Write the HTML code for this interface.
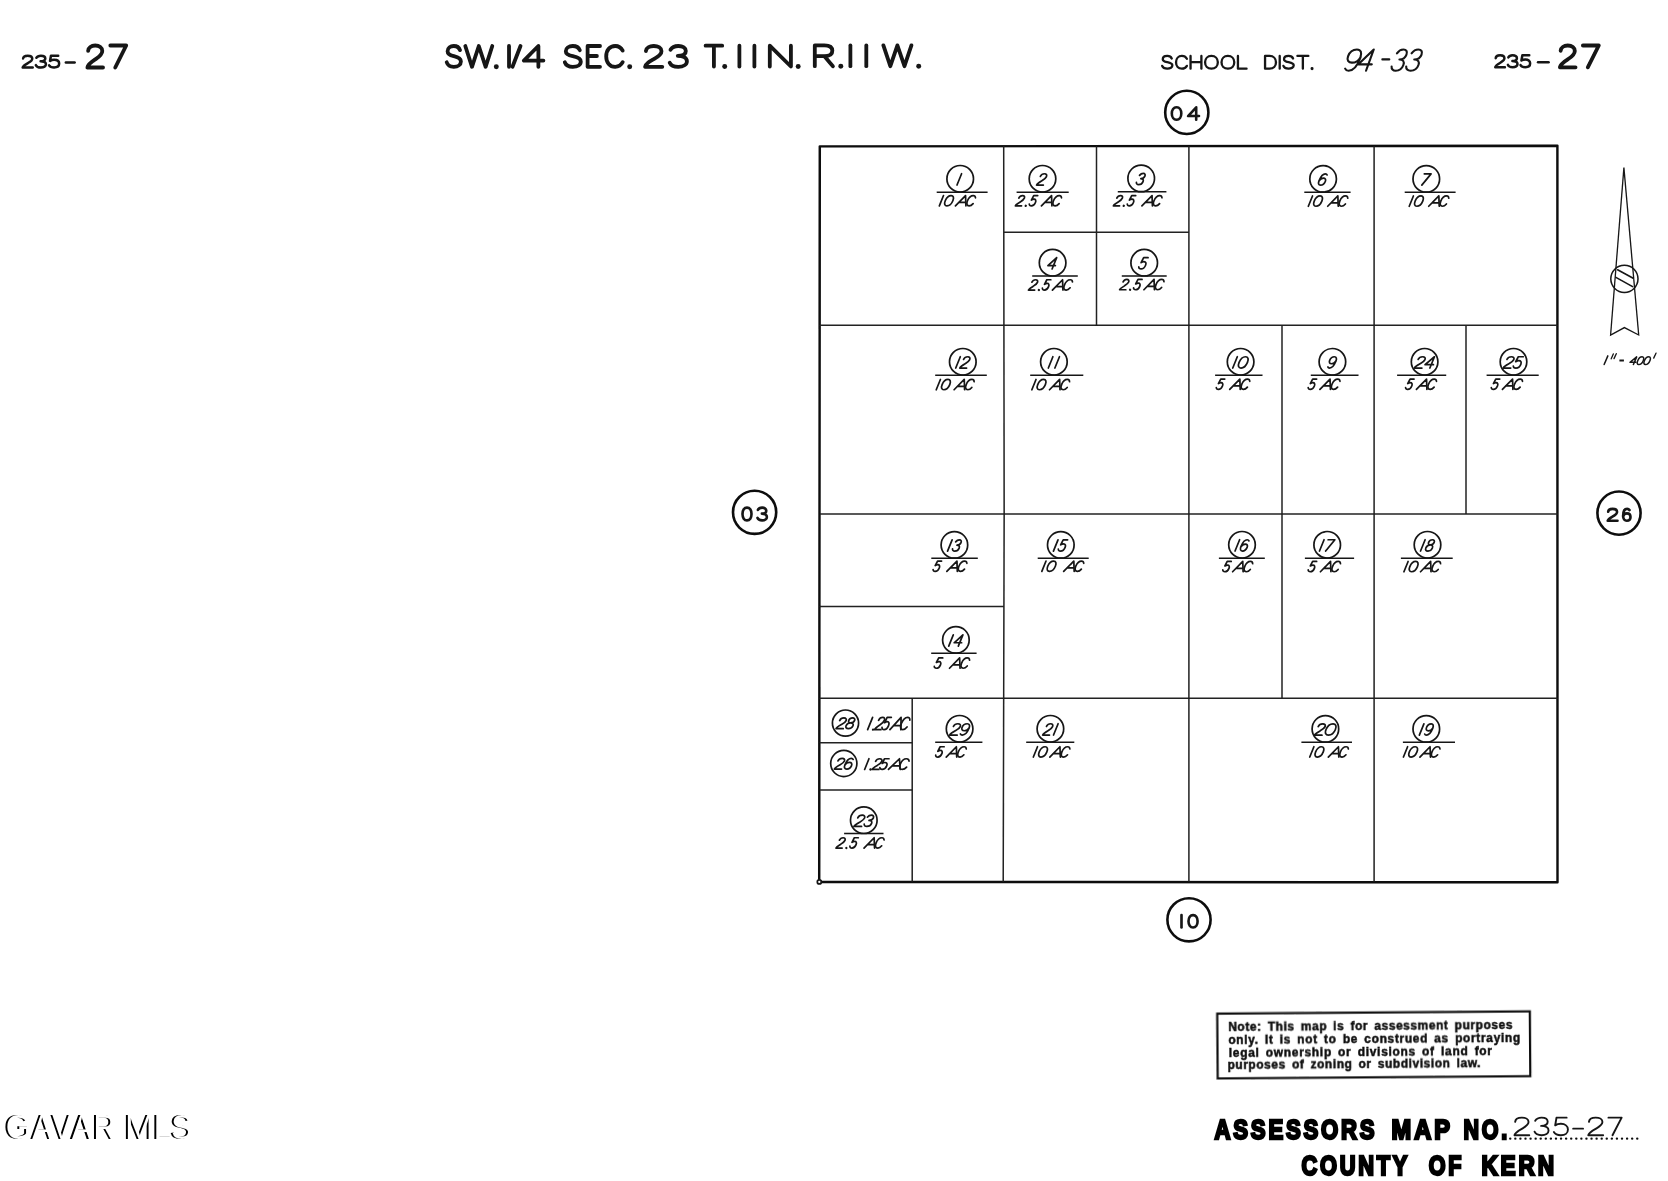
<!DOCTYPE html>
<html><head><meta charset="utf-8"><title>Assessors Map 235-27</title>
<style>
html,body{margin:0;padding:0;background:#fff;}
body{width:1668px;height:1181px;position:relative;overflow:hidden;font-family:"Liberation Sans",sans-serif;}
svg{position:absolute;left:0;top:0;will-change:transform;}
svg text{font-family:"Liberation Sans",sans-serif;font-weight:bold;}
svg .wmk text{font-weight:normal;}
</style></head><body>
<svg width="1668" height="1181" viewBox="0 0 1668 1181"><defs><filter id="soft" filterUnits="userSpaceOnUse" x="0" y="0" width="1668" height="1181"><feGaussianBlur stdDeviation="0.42"/></filter></defs><g filter="url(#soft)"><g stroke="#202020" fill="none" stroke-linecap="butt"><path d="M819.8,146.35 L1557.4,145.75 L1557.5,882.3 L819.2,881.95 Z" stroke="#0c0c0c" stroke-width="2.45" stroke-linejoin="round"/><line x1="819.6" y1="325.2" x2="1557.5" y2="325.2" stroke-width="1.5"/><line x1="819.6" y1="514" x2="1557.5" y2="514" stroke-width="1.5"/><line x1="819.6" y1="698.2" x2="1557.5" y2="698.2" stroke-width="1.5"/><polyline points="1003.7,146.3 1004.15,514 1003.2,882" stroke-width="1.5"/><line x1="1188.9" y1="146.2" x2="1188.9" y2="881.7" stroke-width="1.5"/><line x1="1374.1" y1="146.2" x2="1374.1" y2="881.7" stroke-width="1.5"/><line x1="1096.5" y1="146.2" x2="1096.5" y2="325.2" stroke-width="1.5"/><line x1="1004.0" y1="232.3" x2="1188.9" y2="232.3" stroke-width="1.5"/><line x1="1282.0" y1="325.2" x2="1282.0" y2="698.2" stroke-width="1.5"/><line x1="1466" y1="325.2" x2="1466" y2="514" stroke-width="1.5"/><line x1="819.6" y1="606.4" x2="1004.0" y2="606.4" stroke-width="1.5"/><line x1="912.2" y1="698.2" x2="912.2" y2="881.7" stroke-width="1.5"/><line x1="819.6" y1="742.8" x2="912.2" y2="742.8" stroke-width="1.5"/><line x1="819.6" y1="790" x2="912.2" y2="790" stroke-width="1.5"/></g><g stroke="#141414" fill="none" stroke-linecap="round" stroke-linejoin="round"><circle cx="819.3" cy="881.9" r="2.0" stroke-width="1.7" fill="#fff"/><circle cx="960.2" cy="178.80" r="13.3" stroke-width="1.7"/><line x1="936.7" y1="192.2" x2="987.6" y2="192.2" stroke-width="1.5" stroke-linecap="butt"/><g transform="matrix(1.1300,0,-0.4565,1.1300,954.53,185.05)" stroke-width="1.7"><path vector-effect="non-scaling-stroke" transform="translate(0.00,0)" d="M2.2,-10 L2.2,0"/></g><g transform="matrix(1.0300,0,-0.4161,1.0300,937.08,205.85)" stroke-width="1.7"><path vector-effect="non-scaling-stroke" transform="translate(0.00,0)" d="M2.2,-10 L2.2,0"/><path vector-effect="non-scaling-stroke" transform="translate(5.90,0)" d="M3.70,-10 C1.46,-10 0.00,-8 0.00,-5 C0.00,-2 1.46,0 3.70,0 C5.94,0 7.40,-2 7.40,-5 C7.40,-8 5.94,-10 3.70,-10 Z"/><path vector-effect="non-scaling-stroke" transform="translate(17.80,0)" d="M0,0 L5.8,-10 L10.2,0 M1.9,-3.3 L8.75,-3.3"/><path vector-effect="non-scaling-stroke" transform="translate(27.50,0)" d="M6.60,-7.8 C6.02,-9.1 4.85,-10 3.59,-10 C1.46,-10 0.00,-8 0.00,-5 C0.00,-2 1.46,0 3.59,0 C4.85,0 6.02,-0.9 6.60,-2.2"/></g><circle cx="1042.5" cy="178.80" r="13.3" stroke-width="1.7"/><line x1="1016.6" y1="192.2" x2="1068.7" y2="192.2" stroke-width="1.5" stroke-linecap="butt"/><g transform="matrix(1.1300,0,-0.4565,1.1300,1036.57,185.05)" stroke-width="1.7"><path vector-effect="non-scaling-stroke" transform="translate(0.00,0)" d="M0.28,-7.6 C0.38,-9 1.50,-10 3.00,-10 C4.59,-10 5.72,-9 5.72,-7.5 C5.72,-6 4.69,-5 3.19,-3.8 C1.50,-2.5 0.19,-1.5 0.00,0 L6.00,0"/></g><g transform="matrix(1.0300,0,-0.4161,1.0300,1015.35,205.85)" stroke-width="1.7"><path vector-effect="non-scaling-stroke" transform="translate(0.00,0)" d="M0.28,-7.6 C0.38,-9 1.50,-10 3.00,-10 C4.59,-10 5.72,-9 5.72,-7.5 C5.72,-6 4.69,-5 3.19,-3.8 C1.50,-2.5 0.19,-1.5 0.00,0 L6.00,0"/><path vector-effect="non-scaling-stroke" transform="translate(10.10,0)" d="M0,-0.05 L0,0" stroke-width="2.29"/><path vector-effect="non-scaling-stroke" transform="translate(12.80,0)" d="M4.89,-10 L1.01,-10 L0.51,-5.6 C1.10,-6.2 1.86,-6.5 2.70,-6.5 C4.30,-6.5 5.40,-5.2 5.40,-3.3 C5.40,-1.3 4.30,0 2.70,0 C1.43,0 0.42,-0.7 0.00,-1.8"/><path vector-effect="non-scaling-stroke" transform="translate(25.31,0)" d="M0,0 L5.8,-10 L10.2,0 M1.9,-3.3 L8.75,-3.3"/><path vector-effect="non-scaling-stroke" transform="translate(35.01,0)" d="M6.60,-7.8 C6.02,-9.1 4.85,-10 3.59,-10 C1.46,-10 0.00,-8 0.00,-5 C0.00,-2 1.46,0 3.59,0 C4.85,0 6.02,-0.9 6.60,-2.2"/></g><circle cx="1141.2" cy="178.40" r="13.3" stroke-width="1.7"/><line x1="1117.8" y1="191.8" x2="1166.4" y2="191.8" stroke-width="1.5" stroke-linecap="butt"/><g transform="matrix(1.1300,0,-0.4565,1.1300,1135.49,184.65)" stroke-width="1.7"><path vector-effect="non-scaling-stroke" transform="translate(0.00,0)" d="M0.26,-8.2 C0.70,-9.3 1.66,-10 2.80,-10 C4.29,-10 5.25,-9 5.25,-7.6 C5.25,-6.2 4.29,-5.3 2.62,-5.3 C4.55,-5.3 5.60,-4.2 5.60,-2.7 C5.60,-1.1 4.46,0 2.80,0 C1.40,0 0.35,-0.8 0.00,-2"/></g><g transform="matrix(1.0300,0,-0.4161,1.0300,1113.35,205.85)" stroke-width="1.7"><path vector-effect="non-scaling-stroke" transform="translate(0.00,0)" d="M0.28,-7.6 C0.38,-9 1.50,-10 3.00,-10 C4.59,-10 5.72,-9 5.72,-7.5 C5.72,-6 4.69,-5 3.19,-3.8 C1.50,-2.5 0.19,-1.5 0.00,0 L6.00,0"/><path vector-effect="non-scaling-stroke" transform="translate(10.10,0)" d="M0,-0.05 L0,0" stroke-width="2.29"/><path vector-effect="non-scaling-stroke" transform="translate(12.80,0)" d="M4.89,-10 L1.01,-10 L0.51,-5.6 C1.10,-6.2 1.86,-6.5 2.70,-6.5 C4.30,-6.5 5.40,-5.2 5.40,-3.3 C5.40,-1.3 4.30,0 2.70,0 C1.43,0 0.42,-0.7 0.00,-1.8"/><path vector-effect="non-scaling-stroke" transform="translate(27.73,0)" d="M0,0 L5.8,-10 L10.2,0 M1.9,-3.3 L8.75,-3.3"/><path vector-effect="non-scaling-stroke" transform="translate(37.43,0)" d="M6.60,-7.8 C6.02,-9.1 4.85,-10 3.59,-10 C1.46,-10 0.00,-8 0.00,-5 C0.00,-2 1.46,0 3.59,0 C4.85,0 6.02,-0.9 6.60,-2.2"/></g><circle cx="1052.6" cy="262.70" r="13.3" stroke-width="1.7"/><line x1="1032.2" y1="276.1" x2="1077.8" y2="276.1" stroke-width="1.5" stroke-linecap="butt"/><g transform="matrix(1.1300,0,-0.4565,1.1300,1046.56,268.95)" stroke-width="1.7"><path vector-effect="non-scaling-stroke" transform="translate(0.00,0)" d="M4.90,0 L4.90,-10 L0.00,-3 L6.60,-3"/></g><g transform="matrix(1.0300,0,-0.4161,1.0300,1028.45,290.05)" stroke-width="1.7"><path vector-effect="non-scaling-stroke" transform="translate(0.00,0)" d="M0.28,-7.6 C0.38,-9 1.50,-10 3.00,-10 C4.59,-10 5.72,-9 5.72,-7.5 C5.72,-6 4.69,-5 3.19,-3.8 C1.50,-2.5 0.19,-1.5 0.00,0 L6.00,0"/><path vector-effect="non-scaling-stroke" transform="translate(10.10,0)" d="M0,-0.05 L0,0" stroke-width="2.29"/><path vector-effect="non-scaling-stroke" transform="translate(12.80,0)" d="M4.89,-10 L1.01,-10 L0.51,-5.6 C1.10,-6.2 1.86,-6.5 2.70,-6.5 C4.30,-6.5 5.40,-5.2 5.40,-3.3 C5.40,-1.3 4.30,0 2.70,0 C1.43,0 0.42,-0.7 0.00,-1.8"/><path vector-effect="non-scaling-stroke" transform="translate(23.27,0)" d="M0,0 L5.8,-10 L10.2,0 M1.9,-3.3 L8.75,-3.3"/><path vector-effect="non-scaling-stroke" transform="translate(32.97,0)" d="M6.60,-7.8 C6.02,-9.1 4.85,-10 3.59,-10 C1.46,-10 0.00,-8 0.00,-5 C0.00,-2 1.46,0 3.59,0 C4.85,0 6.02,-0.9 6.60,-2.2"/></g><circle cx="1144.2" cy="262.70" r="13.3" stroke-width="1.7"/><line x1="1121.8" y1="276.1" x2="1166.7" y2="276.1" stroke-width="1.5" stroke-linecap="butt"/><g transform="matrix(1.1300,0,-0.4565,1.1300,1137.97,268.95)" stroke-width="1.7"><path vector-effect="non-scaling-stroke" transform="translate(0.00,0)" d="M4.89,-10 L1.01,-10 L0.51,-5.6 C1.10,-6.2 1.86,-6.5 2.70,-6.5 C4.30,-6.5 5.40,-5.2 5.40,-3.3 C5.40,-1.3 4.30,0 2.70,0 C1.43,0 0.42,-0.7 0.00,-1.8"/></g><g transform="matrix(1.0300,0,-0.4161,1.0300,1119.65,289.75)" stroke-width="1.7"><path vector-effect="non-scaling-stroke" transform="translate(0.00,0)" d="M0.28,-7.6 C0.38,-9 1.50,-10 3.00,-10 C4.59,-10 5.72,-9 5.72,-7.5 C5.72,-6 4.69,-5 3.19,-3.8 C1.50,-2.5 0.19,-1.5 0.00,0 L6.00,0"/><path vector-effect="non-scaling-stroke" transform="translate(10.10,0)" d="M0,-0.05 L0,0" stroke-width="2.29"/><path vector-effect="non-scaling-stroke" transform="translate(12.80,0)" d="M4.89,-10 L1.01,-10 L0.51,-5.6 C1.10,-6.2 1.86,-6.5 2.70,-6.5 C4.30,-6.5 5.40,-5.2 5.40,-3.3 C5.40,-1.3 4.30,0 2.70,0 C1.43,0 0.42,-0.7 0.00,-1.8"/><path vector-effect="non-scaling-stroke" transform="translate(23.56,0)" d="M0,0 L5.8,-10 L10.2,0 M1.9,-3.3 L8.75,-3.3"/><path vector-effect="non-scaling-stroke" transform="translate(33.26,0)" d="M6.60,-7.8 C6.02,-9.1 4.85,-10 3.59,-10 C1.46,-10 0.00,-8 0.00,-5 C0.00,-2 1.46,0 3.59,0 C4.85,0 6.02,-0.9 6.60,-2.2"/></g><circle cx="1323.1" cy="178.90" r="13.3" stroke-width="1.7"/><line x1="1304.3" y1="192.3" x2="1350.6" y2="192.3" stroke-width="1.5" stroke-linecap="butt"/><g transform="matrix(1.1300,0,-0.4565,1.1300,1317.28,185.15)" stroke-width="1.7"><path vector-effect="non-scaling-stroke" transform="translate(0.00,0)" d="M5.07,-9 C4.53,-9.7 3.90,-10 3.17,-10 C1.36,-10 0.00,-8 0.00,-4 C0.00,-1.5 1.18,0 2.90,0 C4.62,0 5.80,-1.3 5.80,-3.2 C5.80,-5 4.62,-6.2 2.99,-6.2 C1.45,-6.2 0.27,-5 0.00,-3.5"/></g><g transform="matrix(1.0300,0,-0.4161,1.0300,1306.08,206.25)" stroke-width="1.7"><path vector-effect="non-scaling-stroke" transform="translate(0.00,0)" d="M2.2,-10 L2.2,0"/><path vector-effect="non-scaling-stroke" transform="translate(5.90,0)" d="M3.70,-10 C1.46,-10 0.00,-8 0.00,-5 C0.00,-2 1.46,0 3.70,0 C5.94,0 7.40,-2 7.40,-5 C7.40,-8 5.94,-10 3.70,-10 Z"/><path vector-effect="non-scaling-stroke" transform="translate(21.00,0)" d="M0,0 L5.8,-10 L10.2,0 M1.9,-3.3 L8.75,-3.3"/><path vector-effect="non-scaling-stroke" transform="translate(30.70,0)" d="M6.60,-7.8 C6.02,-9.1 4.85,-10 3.59,-10 C1.46,-10 0.00,-8 0.00,-5 C0.00,-2 1.46,0 3.59,0 C4.85,0 6.02,-0.9 6.60,-2.2"/></g><circle cx="1426.3" cy="178.90" r="13.3" stroke-width="1.7"/><line x1="1404.7" y1="192.3" x2="1455.6" y2="192.3" stroke-width="1.5" stroke-linecap="butt"/><g transform="matrix(1.1300,0,-0.4565,1.1300,1419.73,185.15)" stroke-width="1.7"><path vector-effect="non-scaling-stroke" transform="translate(0.00,0)" d="M0.00,-10 L6.00,-10 L1.85,0"/></g><g transform="matrix(1.0300,0,-0.4161,1.0300,1406.98,206.25)" stroke-width="1.7"><path vector-effect="non-scaling-stroke" transform="translate(0.00,0)" d="M2.2,-10 L2.2,0"/><path vector-effect="non-scaling-stroke" transform="translate(5.90,0)" d="M3.70,-10 C1.46,-10 0.00,-8 0.00,-5 C0.00,-2 1.46,0 3.70,0 C5.94,0 7.40,-2 7.40,-5 C7.40,-8 5.94,-10 3.70,-10 Z"/><path vector-effect="non-scaling-stroke" transform="translate(21.10,0)" d="M0,0 L5.8,-10 L10.2,0 M1.9,-3.3 L8.75,-3.3"/><path vector-effect="non-scaling-stroke" transform="translate(30.80,0)" d="M6.60,-7.8 C6.02,-9.1 4.85,-10 3.59,-10 C1.46,-10 0.00,-8 0.00,-5 C0.00,-2 1.46,0 3.59,0 C4.85,0 6.02,-0.9 6.60,-2.2"/></g><circle cx="962.8" cy="361.80" r="13.3" stroke-width="1.7"/><line x1="935.2" y1="375.2" x2="986.8" y2="375.2" stroke-width="1.5" stroke-linecap="butt"/><g transform="matrix(1.1300,0,-0.4565,1.1300,953.25,368.05)" stroke-width="1.7"><path vector-effect="non-scaling-stroke" transform="translate(0.00,0)" d="M2.2,-10 L2.2,0"/><path vector-effect="non-scaling-stroke" transform="translate(5.80,0)" d="M0.28,-7.6 C0.38,-9 1.50,-10 3.00,-10 C4.59,-10 5.72,-9 5.72,-7.5 C5.72,-6 4.69,-5 3.19,-3.8 C1.50,-2.5 0.19,-1.5 0.00,0 L6.00,0"/></g><g transform="matrix(1.0300,0,-0.4161,1.0300,933.98,389.75)" stroke-width="1.7"><path vector-effect="non-scaling-stroke" transform="translate(0.00,0)" d="M2.2,-10 L2.2,0"/><path vector-effect="non-scaling-stroke" transform="translate(5.90,0)" d="M3.70,-10 C1.46,-10 0.00,-8 0.00,-5 C0.00,-2 1.46,0 3.70,0 C5.94,0 7.40,-2 7.40,-5 C7.40,-8 5.94,-10 3.70,-10 Z"/><path vector-effect="non-scaling-stroke" transform="translate(19.54,0)" d="M0,0 L5.8,-10 L10.2,0 M1.9,-3.3 L8.75,-3.3"/><path vector-effect="non-scaling-stroke" transform="translate(29.24,0)" d="M6.60,-7.8 C6.02,-9.1 4.85,-10 3.59,-10 C1.46,-10 0.00,-8 0.00,-5 C0.00,-2 1.46,0 3.59,0 C4.85,0 6.02,-0.9 6.60,-2.2"/></g><circle cx="1053.9" cy="361.80" r="13.3" stroke-width="1.7"/><line x1="1030.2" y1="375.2" x2="1083.3" y2="375.2" stroke-width="1.5" stroke-linecap="butt"/><g transform="matrix(1.1300,0,-0.4565,1.1300,1045.85,368.05)" stroke-width="1.7"><path vector-effect="non-scaling-stroke" transform="translate(0.00,0)" d="M2.2,-10 L2.2,0"/><path vector-effect="non-scaling-stroke" transform="translate(5.80,0)" d="M2.2,-10 L2.2,0"/></g><g transform="matrix(1.0300,0,-0.4161,1.0300,1029.58,389.75)" stroke-width="1.7"><path vector-effect="non-scaling-stroke" transform="translate(0.00,0)" d="M2.2,-10 L2.2,0"/><path vector-effect="non-scaling-stroke" transform="translate(5.90,0)" d="M3.70,-10 C1.46,-10 0.00,-8 0.00,-5 C0.00,-2 1.46,0 3.70,0 C5.94,0 7.40,-2 7.40,-5 C7.40,-8 5.94,-10 3.70,-10 Z"/><path vector-effect="non-scaling-stroke" transform="translate(19.35,0)" d="M0,0 L5.8,-10 L10.2,0 M1.9,-3.3 L8.75,-3.3"/><path vector-effect="non-scaling-stroke" transform="translate(29.05,0)" d="M6.60,-7.8 C6.02,-9.1 4.85,-10 3.59,-10 C1.46,-10 0.00,-8 0.00,-5 C0.00,-2 1.46,0 3.59,0 C4.85,0 6.02,-0.9 6.60,-2.2"/></g><circle cx="1240.6" cy="361.80" r="13.3" stroke-width="1.7"/><line x1="1215.1" y1="375.2" x2="1262.5" y2="375.2" stroke-width="1.5" stroke-linecap="butt"/><g transform="matrix(1.1300,0,-0.4565,1.1300,1230.26,368.05)" stroke-width="1.7"><path vector-effect="non-scaling-stroke" transform="translate(0.00,0)" d="M2.2,-10 L2.2,0"/><path vector-effect="non-scaling-stroke" transform="translate(5.80,0)" d="M3.70,-10 C1.46,-10 0.00,-8 0.00,-5 C0.00,-2 1.46,0 3.70,0 C5.94,0 7.40,-2 7.40,-5 C7.40,-8 5.94,-10 3.70,-10 Z"/></g><g transform="matrix(1.0300,0,-0.4161,1.0300,1215.55,389.35)" stroke-width="1.7"><path vector-effect="non-scaling-stroke" transform="translate(0.00,0)" d="M4.89,-10 L1.01,-10 L0.51,-5.6 C1.10,-6.2 1.86,-6.5 2.70,-6.5 C4.30,-6.5 5.40,-5.2 5.40,-3.3 C5.40,-1.3 4.30,0 2.70,0 C1.43,0 0.42,-0.7 0.00,-1.8"/><path vector-effect="non-scaling-stroke" transform="translate(13.75,0)" d="M0,0 L5.8,-10 L10.2,0 M1.9,-3.3 L8.75,-3.3"/><path vector-effect="non-scaling-stroke" transform="translate(23.45,0)" d="M6.60,-7.8 C6.02,-9.1 4.85,-10 3.59,-10 C1.46,-10 0.00,-8 0.00,-5 C0.00,-2 1.46,0 3.59,0 C4.85,0 6.02,-0.9 6.60,-2.2"/></g><circle cx="1332.4" cy="361.80" r="13.3" stroke-width="1.7"/><line x1="1310.8" y1="375.2" x2="1358.5" y2="375.2" stroke-width="1.5" stroke-linecap="butt"/><g transform="matrix(1.1300,0,-0.4565,1.1300,1326.58,368.05)" stroke-width="1.7"><path vector-effect="non-scaling-stroke" transform="translate(0.00,0)" d="M0.72,-1 C1.27,-0.3 1.90,0 2.63,0 C4.44,0 5.80,-2 5.80,-6 C5.80,-8.5 4.62,-10 2.90,-10 C1.18,-10 0.00,-8.7 0.00,-6.8 C0.00,-5 1.18,-3.8 2.81,-3.8 C4.35,-3.8 5.53,-5 5.80,-6.5"/></g><g transform="matrix(1.0300,0,-0.4161,1.0300,1307.45,389.35)" stroke-width="1.7"><path vector-effect="non-scaling-stroke" transform="translate(0.00,0)" d="M4.89,-10 L1.01,-10 L0.51,-5.6 C1.10,-6.2 1.86,-6.5 2.70,-6.5 C4.30,-6.5 5.40,-5.2 5.40,-3.3 C5.40,-1.3 4.30,0 2.70,0 C1.43,0 0.42,-0.7 0.00,-1.8"/><path vector-effect="non-scaling-stroke" transform="translate(12.10,0)" d="M0,0 L5.8,-10 L10.2,0 M1.9,-3.3 L8.75,-3.3"/><path vector-effect="non-scaling-stroke" transform="translate(21.80,0)" d="M6.60,-7.8 C6.02,-9.1 4.85,-10 3.59,-10 C1.46,-10 0.00,-8 0.00,-5 C0.00,-2 1.46,0 3.59,0 C4.85,0 6.02,-0.9 6.60,-2.2"/></g><circle cx="1424.6" cy="361.80" r="13.3" stroke-width="1.7"/><line x1="1397.1" y1="375.2" x2="1446.2" y2="375.2" stroke-width="1.5" stroke-linecap="butt"/><g transform="matrix(1.2656,0,-0.4565,1.1300,1414.33,368.05)" stroke-width="1.7"><path vector-effect="non-scaling-stroke" transform="translate(0.00,0)" d="M0.28,-7.6 C0.38,-9 1.50,-10 3.00,-10 C4.59,-10 5.72,-9 5.72,-7.5 C5.72,-6 4.69,-5 3.19,-3.8 C1.50,-2.5 0.19,-1.5 0.00,0 L6.00,0"/><path vector-effect="non-scaling-stroke" transform="translate(7.40,0)" d="M4.90,0 L4.90,-10 L0.00,-3 L6.60,-3"/></g><g transform="matrix(1.0300,0,-0.4161,1.0300,1404.85,389.35)" stroke-width="1.7"><path vector-effect="non-scaling-stroke" transform="translate(0.00,0)" d="M4.89,-10 L1.01,-10 L0.51,-5.6 C1.10,-6.2 1.86,-6.5 2.70,-6.5 C4.30,-6.5 5.40,-5.2 5.40,-3.3 C5.40,-1.3 4.30,0 2.70,0 C1.43,0 0.42,-0.7 0.00,-1.8"/><path vector-effect="non-scaling-stroke" transform="translate(11.23,0)" d="M0,0 L5.8,-10 L10.2,0 M1.9,-3.3 L8.75,-3.3"/><path vector-effect="non-scaling-stroke" transform="translate(20.93,0)" d="M6.60,-7.8 C6.02,-9.1 4.85,-10 3.59,-10 C1.46,-10 0.00,-8 0.00,-5 C0.00,-2 1.46,0 3.59,0 C4.85,0 6.02,-0.9 6.60,-2.2"/></g><circle cx="1513.5" cy="361.80" r="13.3" stroke-width="1.7"/><line x1="1486.6" y1="375.2" x2="1538.7" y2="375.2" stroke-width="1.5" stroke-linecap="butt"/><g transform="matrix(1.2656,0,-0.4565,1.1300,1503.12,368.05)" stroke-width="1.7"><path vector-effect="non-scaling-stroke" transform="translate(0.00,0)" d="M0.28,-7.6 C0.38,-9 1.50,-10 3.00,-10 C4.59,-10 5.72,-9 5.72,-7.5 C5.72,-6 4.69,-5 3.19,-3.8 C1.50,-2.5 0.19,-1.5 0.00,0 L6.00,0"/><path vector-effect="non-scaling-stroke" transform="translate(7.40,0)" d="M4.89,-10 L1.01,-10 L0.51,-5.6 C1.10,-6.2 1.86,-6.5 2.70,-6.5 C4.30,-6.5 5.40,-5.2 5.40,-3.3 C5.40,-1.3 4.30,0 2.70,0 C1.43,0 0.42,-0.7 0.00,-1.8"/></g><g transform="matrix(1.0300,0,-0.4161,1.0300,1490.55,389.35)" stroke-width="1.7"><path vector-effect="non-scaling-stroke" transform="translate(0.00,0)" d="M4.89,-10 L1.01,-10 L0.51,-5.6 C1.10,-6.2 1.86,-6.5 2.70,-6.5 C4.30,-6.5 5.40,-5.2 5.40,-3.3 C5.40,-1.3 4.30,0 2.70,0 C1.43,0 0.42,-0.7 0.00,-1.8"/><path vector-effect="non-scaling-stroke" transform="translate(11.52,0)" d="M0,0 L5.8,-10 L10.2,0 M1.9,-3.3 L8.75,-3.3"/><path vector-effect="non-scaling-stroke" transform="translate(21.22,0)" d="M6.60,-7.8 C6.02,-9.1 4.85,-10 3.59,-10 C1.46,-10 0.00,-8 0.00,-5 C0.00,-2 1.46,0 3.59,0 C4.85,0 6.02,-0.9 6.60,-2.2"/></g><circle cx="954.4" cy="544.90" r="13.3" stroke-width="1.7"/><line x1="931.3" y1="558.3" x2="977.8" y2="558.3" stroke-width="1.5" stroke-linecap="butt"/><g transform="matrix(1.1300,0,-0.4565,1.1300,945.07,551.15)" stroke-width="1.7"><path vector-effect="non-scaling-stroke" transform="translate(0.00,0)" d="M2.2,-10 L2.2,0"/><path vector-effect="non-scaling-stroke" transform="translate(5.80,0)" d="M0.26,-8.2 C0.70,-9.3 1.66,-10 2.80,-10 C4.29,-10 5.25,-9 5.25,-7.6 C5.25,-6.2 4.29,-5.3 2.62,-5.3 C4.55,-5.3 5.60,-4.2 5.60,-2.7 C5.60,-1.1 4.46,0 2.80,0 C1.40,0 0.35,-0.8 0.00,-2"/></g><g transform="matrix(1.0300,0,-0.4161,1.0300,932.35,571.35)" stroke-width="1.7"><path vector-effect="non-scaling-stroke" transform="translate(0.00,0)" d="M4.89,-10 L1.01,-10 L0.51,-5.6 C1.10,-6.2 1.86,-6.5 2.70,-6.5 C4.30,-6.5 5.40,-5.2 5.40,-3.3 C5.40,-1.3 4.30,0 2.70,0 C1.43,0 0.42,-0.7 0.00,-1.8"/><path vector-effect="non-scaling-stroke" transform="translate(14.04,0)" d="M0,0 L5.8,-10 L10.2,0 M1.9,-3.3 L8.75,-3.3"/><path vector-effect="non-scaling-stroke" transform="translate(23.74,0)" d="M6.60,-7.8 C6.02,-9.1 4.85,-10 3.59,-10 C1.46,-10 0.00,-8 0.00,-5 C0.00,-2 1.46,0 3.59,0 C4.85,0 6.02,-0.9 6.60,-2.2"/></g><circle cx="1060.8" cy="544.90" r="13.3" stroke-width="1.7"/><line x1="1037.7" y1="558.3" x2="1088.7" y2="558.3" stroke-width="1.5" stroke-linecap="butt"/><g transform="matrix(1.1300,0,-0.4565,1.1300,1050.95,551.15)" stroke-width="1.7"><path vector-effect="non-scaling-stroke" transform="translate(0.00,0)" d="M2.2,-10 L2.2,0"/><path vector-effect="non-scaling-stroke" transform="translate(5.80,0)" d="M4.89,-10 L1.01,-10 L0.51,-5.6 C1.10,-6.2 1.86,-6.5 2.70,-6.5 C4.30,-6.5 5.40,-5.2 5.40,-3.3 C5.40,-1.3 4.30,0 2.70,0 C1.43,0 0.42,-0.7 0.00,-1.8"/></g><g transform="matrix(1.0300,0,-0.4161,1.0300,1039.58,571.35)" stroke-width="1.7"><path vector-effect="non-scaling-stroke" transform="translate(0.00,0)" d="M2.2,-10 L2.2,0"/><path vector-effect="non-scaling-stroke" transform="translate(5.90,0)" d="M3.70,-10 C1.46,-10 0.00,-8 0.00,-5 C0.00,-2 1.46,0 3.70,0 C5.94,0 7.40,-2 7.40,-5 C7.40,-8 5.94,-10 3.70,-10 Z"/><path vector-effect="non-scaling-stroke" transform="translate(23.40,0)" d="M0,0 L5.8,-10 L10.2,0 M1.9,-3.3 L8.75,-3.3"/><path vector-effect="non-scaling-stroke" transform="translate(33.10,0)" d="M6.60,-7.8 C6.02,-9.1 4.85,-10 3.59,-10 C1.46,-10 0.00,-8 0.00,-5 C0.00,-2 1.46,0 3.59,0 C4.85,0 6.02,-0.9 6.60,-2.2"/></g><circle cx="1242.0" cy="544.80" r="13.3" stroke-width="1.7"/><line x1="1218.9" y1="558.2" x2="1264.8" y2="558.2" stroke-width="1.5" stroke-linecap="butt"/><g transform="matrix(1.1300,0,-0.4565,1.1300,1232.56,551.05)" stroke-width="1.7"><path vector-effect="non-scaling-stroke" transform="translate(0.00,0)" d="M2.2,-10 L2.2,0"/><path vector-effect="non-scaling-stroke" transform="translate(5.80,0)" d="M5.07,-9 C4.53,-9.7 3.90,-10 3.17,-10 C1.36,-10 0.00,-8 0.00,-4 C0.00,-1.5 1.18,0 2.90,0 C4.62,0 5.80,-1.3 5.80,-3.2 C5.80,-5 4.62,-6.2 2.99,-6.2 C1.45,-6.2 0.27,-5 0.00,-3.5"/></g><g transform="matrix(1.0300,0,-0.4161,1.0300,1222.05,571.75)" stroke-width="1.7"><path vector-effect="non-scaling-stroke" transform="translate(0.00,0)" d="M4.89,-10 L1.01,-10 L0.51,-5.6 C1.10,-6.2 1.86,-6.5 2.70,-6.5 C4.30,-6.5 5.40,-5.2 5.40,-3.3 C5.40,-1.3 4.30,0 2.70,0 C1.43,0 0.42,-0.7 0.00,-1.8"/><path vector-effect="non-scaling-stroke" transform="translate(10.26,0)" d="M0,0 L5.8,-10 L10.2,0 M1.9,-3.3 L8.75,-3.3"/><path vector-effect="non-scaling-stroke" transform="translate(19.96,0)" d="M6.60,-7.8 C6.02,-9.1 4.85,-10 3.59,-10 C1.46,-10 0.00,-8 0.00,-5 C0.00,-2 1.46,0 3.59,0 C4.85,0 6.02,-0.9 6.60,-2.2"/></g><circle cx="1327.2" cy="544.80" r="13.3" stroke-width="1.7"/><line x1="1304.9" y1="558.2" x2="1354.1" y2="558.2" stroke-width="1.5" stroke-linecap="butt"/><g transform="matrix(1.1300,0,-0.4565,1.1300,1317.01,551.05)" stroke-width="1.7"><path vector-effect="non-scaling-stroke" transform="translate(0.00,0)" d="M2.2,-10 L2.2,0"/><path vector-effect="non-scaling-stroke" transform="translate(5.80,0)" d="M0.00,-10 L6.00,-10 L1.85,0"/></g><g transform="matrix(1.0300,0,-0.4161,1.0300,1307.45,571.75)" stroke-width="1.7"><path vector-effect="non-scaling-stroke" transform="translate(0.00,0)" d="M4.89,-10 L1.01,-10 L0.51,-5.6 C1.10,-6.2 1.86,-6.5 2.70,-6.5 C4.30,-6.5 5.40,-5.2 5.40,-3.3 C5.40,-1.3 4.30,0 2.70,0 C1.43,0 0.42,-0.7 0.00,-1.8"/><path vector-effect="non-scaling-stroke" transform="translate(12.59,0)" d="M0,0 L5.8,-10 L10.2,0 M1.9,-3.3 L8.75,-3.3"/><path vector-effect="non-scaling-stroke" transform="translate(22.29,0)" d="M6.60,-7.8 C6.02,-9.1 4.85,-10 3.59,-10 C1.46,-10 0.00,-8 0.00,-5 C0.00,-2 1.46,0 3.59,0 C4.85,0 6.02,-0.9 6.60,-2.2"/></g><circle cx="1427.5" cy="544.80" r="13.3" stroke-width="1.7"/><line x1="1400.9" y1="558.2" x2="1452.7" y2="558.2" stroke-width="1.5" stroke-linecap="butt"/><g transform="matrix(1.1300,0,-0.4565,1.1300,1418.06,551.05)" stroke-width="1.7"><path vector-effect="non-scaling-stroke" transform="translate(0.00,0)" d="M2.2,-10 L2.2,0"/><path vector-effect="non-scaling-stroke" transform="translate(5.80,0)" d="M2.90,-5.4 C1.45,-5.4 0.45,-6.3 0.45,-7.7 C0.45,-9 1.45,-10 2.90,-10 C4.35,-10 5.35,-9 5.35,-7.7 C5.35,-6.3 4.35,-5.4 2.90,-5.4 C1.18,-5.4 0.00,-4.3 0.00,-2.7 C0.00,-1.1 1.18,0 2.90,0 C4.62,0 5.80,-1.1 5.80,-2.7 C5.80,-4.3 4.62,-5.4 2.90,-5.4 Z"/></g><g transform="matrix(1.0300,0,-0.4161,1.0300,1401.68,571.75)" stroke-width="1.7"><path vector-effect="non-scaling-stroke" transform="translate(0.00,0)" d="M2.2,-10 L2.2,0"/><path vector-effect="non-scaling-stroke" transform="translate(5.90,0)" d="M3.70,-10 C1.46,-10 0.00,-8 0.00,-5 C0.00,-2 1.46,0 3.70,0 C5.94,0 7.40,-2 7.40,-5 C7.40,-8 5.94,-10 3.70,-10 Z"/><path vector-effect="non-scaling-stroke" transform="translate(18.28,0)" d="M0,0 L5.8,-10 L10.2,0 M1.9,-3.3 L8.75,-3.3"/><path vector-effect="non-scaling-stroke" transform="translate(27.98,0)" d="M6.60,-7.8 C6.02,-9.1 4.85,-10 3.59,-10 C1.46,-10 0.00,-8 0.00,-5 C0.00,-2 1.46,0 3.59,0 C4.85,0 6.02,-0.9 6.60,-2.2"/></g><circle cx="955.9" cy="639.90" r="13.3" stroke-width="1.7"/><line x1="931.2" y1="653.3" x2="976.6" y2="653.3" stroke-width="1.5" stroke-linecap="butt"/><g transform="matrix(1.1300,0,-0.4565,1.1300,946.24,646.15)" stroke-width="1.7"><path vector-effect="non-scaling-stroke" transform="translate(0.00,0)" d="M2.2,-10 L2.2,0"/><path vector-effect="non-scaling-stroke" transform="translate(5.80,0)" d="M4.90,0 L4.90,-10 L0.00,-3 L6.60,-3"/></g><g transform="matrix(1.0300,0,-0.4161,1.0300,933.55,668.25)" stroke-width="1.7"><path vector-effect="non-scaling-stroke" transform="translate(0.00,0)" d="M4.89,-10 L1.01,-10 L0.51,-5.6 C1.10,-6.2 1.86,-6.5 2.70,-6.5 C4.30,-6.5 5.40,-5.2 5.40,-3.3 C5.40,-1.3 4.30,0 2.70,0 C1.43,0 0.42,-0.7 0.00,-1.8"/><path vector-effect="non-scaling-stroke" transform="translate(15.50,0)" d="M0,0 L5.8,-10 L10.2,0 M1.9,-3.3 L8.75,-3.3"/><path vector-effect="non-scaling-stroke" transform="translate(25.20,0)" d="M6.60,-7.8 C6.02,-9.1 4.85,-10 3.59,-10 C1.46,-10 0.00,-8 0.00,-5 C0.00,-2 1.46,0 3.59,0 C4.85,0 6.02,-0.9 6.60,-2.2"/></g><circle cx="959.6" cy="728.80" r="13.3" stroke-width="1.7"/><line x1="935.2" y1="742.2" x2="982.4" y2="742.2" stroke-width="1.5" stroke-linecap="butt"/><g transform="matrix(1.2656,0,-0.4565,1.1300,949.60,735.05)" stroke-width="1.7"><path vector-effect="non-scaling-stroke" transform="translate(0.00,0)" d="M0.28,-7.6 C0.38,-9 1.50,-10 3.00,-10 C4.59,-10 5.72,-9 5.72,-7.5 C5.72,-6 4.69,-5 3.19,-3.8 C1.50,-2.5 0.19,-1.5 0.00,0 L6.00,0"/><path vector-effect="non-scaling-stroke" transform="translate(7.40,0)" d="M0.72,-1 C1.27,-0.3 1.90,0 2.63,0 C4.44,0 5.80,-2 5.80,-6 C5.80,-8.5 4.62,-10 2.90,-10 C1.18,-10 0.00,-8.7 0.00,-6.8 C0.00,-5 1.18,-3.8 2.81,-3.8 C4.35,-3.8 5.53,-5 5.80,-6.5"/></g><g transform="matrix(1.0300,0,-0.4161,1.0300,934.95,757.05)" stroke-width="1.7"><path vector-effect="non-scaling-stroke" transform="translate(0.00,0)" d="M4.89,-10 L1.01,-10 L0.51,-5.6 C1.10,-6.2 1.86,-6.5 2.70,-6.5 C4.30,-6.5 5.40,-5.2 5.40,-3.3 C5.40,-1.3 4.30,0 2.70,0 C1.43,0 0.42,-0.7 0.00,-1.8"/><path vector-effect="non-scaling-stroke" transform="translate(10.94,0)" d="M0,0 L5.8,-10 L10.2,0 M1.9,-3.3 L8.75,-3.3"/><path vector-effect="non-scaling-stroke" transform="translate(20.64,0)" d="M6.60,-7.8 C6.02,-9.1 4.85,-10 3.59,-10 C1.46,-10 0.00,-8 0.00,-5 C0.00,-2 1.46,0 3.59,0 C4.85,0 6.02,-0.9 6.60,-2.2"/></g><circle cx="1050.4" cy="728.80" r="13.3" stroke-width="1.7"/><line x1="1026.2" y1="742.2" x2="1074.3" y2="742.2" stroke-width="1.5" stroke-linecap="butt"/><g transform="matrix(1.1300,0,-0.4565,1.1300,1042.69,735.05)" stroke-width="1.7"><path vector-effect="non-scaling-stroke" transform="translate(0.00,0)" d="M0.28,-7.6 C0.38,-9 1.50,-10 3.00,-10 C4.59,-10 5.72,-9 5.72,-7.5 C5.72,-6 4.69,-5 3.19,-3.8 C1.50,-2.5 0.19,-1.5 0.00,0 L6.00,0"/><path vector-effect="non-scaling-stroke" transform="translate(7.40,0)" d="M2.2,-10 L2.2,0"/></g><g transform="matrix(1.0300,0,-0.4161,1.0300,1031.08,757.05)" stroke-width="1.7"><path vector-effect="non-scaling-stroke" transform="translate(0.00,0)" d="M2.2,-10 L2.2,0"/><path vector-effect="non-scaling-stroke" transform="translate(5.90,0)" d="M3.70,-10 C1.46,-10 0.00,-8 0.00,-5 C0.00,-2 1.46,0 3.70,0 C5.94,0 7.40,-2 7.40,-5 C7.40,-8 5.94,-10 3.70,-10 Z"/><path vector-effect="non-scaling-stroke" transform="translate(18.19,0)" d="M0,0 L5.8,-10 L10.2,0 M1.9,-3.3 L8.75,-3.3"/><path vector-effect="non-scaling-stroke" transform="translate(27.89,0)" d="M6.60,-7.8 C6.02,-9.1 4.85,-10 3.59,-10 C1.46,-10 0.00,-8 0.00,-5 C0.00,-2 1.46,0 3.59,0 C4.85,0 6.02,-0.9 6.60,-2.2"/></g><circle cx="1325.4" cy="728.90" r="13.3" stroke-width="1.7"/><line x1="1301.4" y1="742.3" x2="1352.0" y2="742.3" stroke-width="1.5" stroke-linecap="butt"/><g transform="matrix(1.2656,0,-0.4565,1.1300,1314.39,735.15)" stroke-width="1.7"><path vector-effect="non-scaling-stroke" transform="translate(0.00,0)" d="M0.28,-7.6 C0.38,-9 1.50,-10 3.00,-10 C4.59,-10 5.72,-9 5.72,-7.5 C5.72,-6 4.69,-5 3.19,-3.8 C1.50,-2.5 0.19,-1.5 0.00,0 L6.00,0"/><path vector-effect="non-scaling-stroke" transform="translate(7.40,0)" d="M3.70,-10 C1.46,-10 0.00,-8 0.00,-5 C0.00,-2 1.46,0 3.70,0 C5.94,0 7.40,-2 7.40,-5 C7.40,-8 5.94,-10 3.70,-10 Z"/></g><g transform="matrix(1.0300,0,-0.4161,1.0300,1307.48,757.05)" stroke-width="1.7"><path vector-effect="non-scaling-stroke" transform="translate(0.00,0)" d="M2.2,-10 L2.2,0"/><path vector-effect="non-scaling-stroke" transform="translate(5.90,0)" d="M3.70,-10 C1.46,-10 0.00,-8 0.00,-5 C0.00,-2 1.46,0 3.70,0 C5.94,0 7.40,-2 7.40,-5 C7.40,-8 5.94,-10 3.70,-10 Z"/><path vector-effect="non-scaling-stroke" transform="translate(20.22,0)" d="M0,0 L5.8,-10 L10.2,0 M1.9,-3.3 L8.75,-3.3"/><path vector-effect="non-scaling-stroke" transform="translate(29.92,0)" d="M6.60,-7.8 C6.02,-9.1 4.85,-10 3.59,-10 C1.46,-10 0.00,-8 0.00,-5 C0.00,-2 1.46,0 3.59,0 C4.85,0 6.02,-0.9 6.60,-2.2"/></g><circle cx="1426.3" cy="728.90" r="13.3" stroke-width="1.7"/><line x1="1402.9" y1="742.3" x2="1455.0" y2="742.3" stroke-width="1.5" stroke-linecap="butt"/><g transform="matrix(1.1300,0,-0.4565,1.1300,1416.86,735.15)" stroke-width="1.7"><path vector-effect="non-scaling-stroke" transform="translate(0.00,0)" d="M2.2,-10 L2.2,0"/><path vector-effect="non-scaling-stroke" transform="translate(5.80,0)" d="M0.72,-1 C1.27,-0.3 1.90,0 2.63,0 C4.44,0 5.80,-2 5.80,-6 C5.80,-8.5 4.62,-10 2.90,-10 C1.18,-10 0.00,-8.7 0.00,-6.8 C0.00,-5 1.18,-3.8 2.81,-3.8 C4.35,-3.8 5.53,-5 5.80,-6.5"/></g><g transform="matrix(1.0300,0,-0.4161,1.0300,1401.18,757.05)" stroke-width="1.7"><path vector-effect="non-scaling-stroke" transform="translate(0.00,0)" d="M2.2,-10 L2.2,0"/><path vector-effect="non-scaling-stroke" transform="translate(5.90,0)" d="M3.70,-10 C1.46,-10 0.00,-8 0.00,-5 C0.00,-2 1.46,0 3.70,0 C5.94,0 7.40,-2 7.40,-5 C7.40,-8 5.94,-10 3.70,-10 Z"/><path vector-effect="non-scaling-stroke" transform="translate(18.19,0)" d="M0,0 L5.8,-10 L10.2,0 M1.9,-3.3 L8.75,-3.3"/><path vector-effect="non-scaling-stroke" transform="translate(27.89,0)" d="M6.60,-7.8 C6.02,-9.1 4.85,-10 3.59,-10 C1.46,-10 0.00,-8 0.00,-5 C0.00,-2 1.46,0 3.59,0 C4.85,0 6.02,-0.9 6.60,-2.2"/></g><circle cx="863.8" cy="820.20" r="13.3" stroke-width="1.7"/><line x1="844.1" y1="833.6" x2="883.5" y2="833.6" stroke-width="1.5" stroke-linecap="butt"/><g transform="matrix(1.2656,0,-0.4565,1.1300,853.93,826.45)" stroke-width="1.7"><path vector-effect="non-scaling-stroke" transform="translate(0.00,0)" d="M0.28,-7.6 C0.38,-9 1.50,-10 3.00,-10 C4.59,-10 5.72,-9 5.72,-7.5 C5.72,-6 4.69,-5 3.19,-3.8 C1.50,-2.5 0.19,-1.5 0.00,0 L6.00,0"/><path vector-effect="non-scaling-stroke" transform="translate(7.40,0)" d="M0.26,-8.2 C0.70,-9.3 1.66,-10 2.80,-10 C4.29,-10 5.25,-9 5.25,-7.6 C5.25,-6.2 4.29,-5.3 2.62,-5.3 C4.55,-5.3 5.60,-4.2 5.60,-2.7 C5.60,-1.1 4.46,0 2.80,0 C1.40,0 0.35,-0.8 0.00,-2"/></g><g transform="matrix(1.0300,0,-0.4161,1.0300,835.95,848.05)" stroke-width="1.7"><path vector-effect="non-scaling-stroke" transform="translate(0.00,0)" d="M0.28,-7.6 C0.38,-9 1.50,-10 3.00,-10 C4.59,-10 5.72,-9 5.72,-7.5 C5.72,-6 4.69,-5 3.19,-3.8 C1.50,-2.5 0.19,-1.5 0.00,0 L6.00,0"/><path vector-effect="non-scaling-stroke" transform="translate(10.10,0)" d="M0,-0.05 L0,0" stroke-width="2.29"/><path vector-effect="non-scaling-stroke" transform="translate(12.80,0)" d="M4.89,-10 L1.01,-10 L0.51,-5.6 C1.10,-6.2 1.86,-6.5 2.70,-6.5 C4.30,-6.5 5.40,-5.2 5.40,-3.3 C5.40,-1.3 4.30,0 2.70,0 C1.43,0 0.42,-0.7 0.00,-1.8"/><path vector-effect="non-scaling-stroke" transform="translate(27.25,0)" d="M0,0 L5.8,-10 L10.2,0 M1.9,-3.3 L8.75,-3.3"/><path vector-effect="non-scaling-stroke" transform="translate(36.95,0)" d="M6.60,-7.8 C6.02,-9.1 4.85,-10 3.59,-10 C1.46,-10 0.00,-8 0.00,-5 C0.00,-2 1.46,0 3.59,0 C4.85,0 6.02,-0.9 6.60,-2.2"/></g><circle cx="845.5" cy="723.1" r="13.1" stroke-width="1.7"/><g transform="matrix(1.1984,0,-0.4323,1.0700,836.03,728.65)" stroke-width="1.7"><path vector-effect="non-scaling-stroke" transform="translate(0.00,0)" d="M0.28,-7.6 C0.38,-9 1.50,-10 3.00,-10 C4.59,-10 5.72,-9 5.72,-7.5 C5.72,-6 4.69,-5 3.19,-3.8 C1.50,-2.5 0.19,-1.5 0.00,0 L6.00,0"/><path vector-effect="non-scaling-stroke" transform="translate(7.40,0)" d="M2.90,-5.4 C1.45,-5.4 0.45,-6.3 0.45,-7.7 C0.45,-9 1.45,-10 2.90,-10 C4.35,-10 5.35,-9 5.35,-7.7 C5.35,-6.3 4.35,-5.4 2.90,-5.4 C1.18,-5.4 0.00,-4.3 0.00,-2.7 C0.00,-1.1 1.18,0 2.90,0 C4.62,0 5.80,-1.1 5.80,-2.7 C5.80,-4.3 4.62,-5.4 2.90,-5.4 Z"/></g><g transform="matrix(1.0705,0,-0.4970,1.2300,865.29,729.65)" stroke-width="1.7"><path vector-effect="non-scaling-stroke" transform="translate(0.00,0)" d="M2.2,-10 L2.2,0"/><path vector-effect="non-scaling-stroke" transform="translate(7.20,0)" d="M0,-0.05 L0,0" stroke-width="2.29"/><path vector-effect="non-scaling-stroke" transform="translate(8.60,0)" d="M0.28,-7.6 C0.38,-9 1.50,-10 3.00,-10 C4.59,-10 5.72,-9 5.72,-7.5 C5.72,-6 4.69,-5 3.19,-3.8 C1.50,-2.5 0.19,-1.5 0.00,0 L6.00,0"/><path vector-effect="non-scaling-stroke" transform="translate(14.80,0)" d="M4.89,-10 L1.01,-10 L0.51,-5.6 C1.10,-6.2 1.86,-6.5 2.70,-6.5 C4.30,-6.5 5.40,-5.2 5.40,-3.3 C5.40,-1.3 4.30,0 2.70,0 C1.43,0 0.42,-0.7 0.00,-1.8"/><path vector-effect="non-scaling-stroke" transform="translate(23.00,0)" d="M0,0 L5.8,-10 L10.2,0 M1.9,-3.3 L8.75,-3.3"/><path vector-effect="non-scaling-stroke" transform="translate(31.40,0)" d="M6.60,-7.8 C6.02,-9.1 4.85,-10 3.59,-10 C1.46,-10 0.00,-8 0.00,-5 C0.00,-2 1.46,0 3.59,0 C4.85,0 6.02,-0.9 6.60,-2.2"/></g><circle cx="843.8" cy="763.5" r="13.1" stroke-width="1.7"/><g transform="matrix(1.1984,0,-0.4323,1.0700,834.33,769.05)" stroke-width="1.7"><path vector-effect="non-scaling-stroke" transform="translate(0.00,0)" d="M0.28,-7.6 C0.38,-9 1.50,-10 3.00,-10 C4.59,-10 5.72,-9 5.72,-7.5 C5.72,-6 4.69,-5 3.19,-3.8 C1.50,-2.5 0.19,-1.5 0.00,0 L6.00,0"/><path vector-effect="non-scaling-stroke" transform="translate(7.40,0)" d="M5.07,-9 C4.53,-9.7 3.90,-10 3.17,-10 C1.36,-10 0.00,-8 0.00,-4 C0.00,-1.5 1.18,0 2.90,0 C4.62,0 5.80,-1.3 5.80,-3.2 C5.80,-5 4.62,-6.2 2.99,-6.2 C1.45,-6.2 0.27,-5 0.00,-3.5"/></g><g transform="matrix(1.1460,0,-0.4323,1.0700,862.13,769.45)" stroke-width="1.7"><path vector-effect="non-scaling-stroke" transform="translate(0.00,0)" d="M2.2,-10 L2.2,0"/><path vector-effect="non-scaling-stroke" transform="translate(7.20,0)" d="M0,-0.05 L0,0" stroke-width="2.29"/><path vector-effect="non-scaling-stroke" transform="translate(8.60,0)" d="M0.28,-7.6 C0.38,-9 1.50,-10 3.00,-10 C4.59,-10 5.72,-9 5.72,-7.5 C5.72,-6 4.69,-5 3.19,-3.8 C1.50,-2.5 0.19,-1.5 0.00,0 L6.00,0"/><path vector-effect="non-scaling-stroke" transform="translate(14.80,0)" d="M4.89,-10 L1.01,-10 L0.51,-5.6 C1.10,-6.2 1.86,-6.5 2.70,-6.5 C4.30,-6.5 5.40,-5.2 5.40,-3.3 C5.40,-1.3 4.30,0 2.70,0 C1.43,0 0.42,-0.7 0.00,-1.8"/><path vector-effect="non-scaling-stroke" transform="translate(23.00,0)" d="M0,0 L5.8,-10 L10.2,0 M1.9,-3.3 L8.75,-3.3"/><path vector-effect="non-scaling-stroke" transform="translate(31.40,0)" d="M6.60,-7.8 C6.02,-9.1 4.85,-10 3.59,-10 C1.46,-10 0.00,-8 0.00,-5 C0.00,-2 1.46,0 3.59,0 C4.85,0 6.02,-0.9 6.60,-2.2"/></g><circle cx="1186.8" cy="112.4" r="21.6" stroke-width="2.6" stroke="#0c0c0c"/><g transform="matrix(1.4394,0,-0.0000,1.2500,1171.80,119.80)" stroke-width="2.6"><path vector-effect="non-scaling-stroke" transform="translate(0.00,0)" d="M3.3,-10 C1.3,-10 0,-8 0,-5 C0,-2 1.3,0 3.3,0 C5.3,0 6.6,-2 6.6,-5 C6.6,-8 5.3,-10 3.3,-10 Z"/></g><g transform="matrix(1.5571,0,-0.0000,1.2500,1188.10,119.80)" stroke-width="2.6"><path vector-effect="non-scaling-stroke" transform="translate(0.00,0)" d="M5.2,0 L5.2,-10 L0,-3 L7,-3"/></g><circle cx="754.6" cy="512.3" r="21.6" stroke-width="2.6" stroke="#0c0c0c"/><g transform="matrix(1.3636,0,-0.0000,1.2800,742.50,520.40)" stroke-width="2.6"><path vector-effect="non-scaling-stroke" transform="translate(0.00,0)" d="M3.3,-10 C1.3,-10 0,-8 0,-5 C0,-2 1.3,0 3.3,0 C5.3,0 6.6,-2 6.6,-5 C6.6,-8 5.3,-10 3.3,-10 Z"/></g><g transform="matrix(1.4844,0,-0.0000,1.2800,757.40,520.40)" stroke-width="2.6"><path vector-effect="non-scaling-stroke" transform="translate(0.00,0)" d="M0.3,-8.2 C0.8,-9.3 1.9,-10 3.2,-10 C4.9,-10 6,-9 6,-7.6 C6,-6.2 4.9,-5.3 3,-5.3 C5.2,-5.3 6.4,-4.2 6.4,-2.7 C6.4,-1.1 5.1,0 3.2,0 C1.6,0 0.4,-0.8 0,-2"/></g><circle cx="1619.0" cy="513.1" r="21.6" stroke-width="2.6" stroke="#0c0c0c"/><g transform="matrix(1.5312,0,-0.0000,1.1900,1607.70,520.80)" stroke-width="2.6"><path vector-effect="non-scaling-stroke" transform="translate(0.00,0)" d="M0.3,-7.6 C0.4,-9 1.6,-10 3.2,-10 C4.9,-10 6.1,-9 6.1,-7.5 C6.1,-6 5,-5 3.4,-3.8 C1.6,-2.5 0.2,-1.5 0,0 L6.4,0"/></g><g transform="matrix(1.1563,0,-0.0000,1.1900,1623.10,520.80)" stroke-width="2.6"><path vector-effect="non-scaling-stroke" transform="translate(0.00,0)" d="M5.6,-9 C5,-9.7 4.3,-10 3.5,-10 C1.5,-10 0,-8 0,-4 C0,-1.5 1.3,0 3.2,0 C5.1,0 6.4,-1.3 6.4,-3.2 C6.4,-5 5.1,-6.2 3.3,-6.2 C1.6,-6.2 0.3,-5 0,-3.5"/></g><circle cx="1189.0" cy="919.8" r="21.6" stroke-width="2.6" stroke="#0c0c0c"/><g transform="matrix(1.2400,0,-0.0000,1.2400,1181.50,927.50)" stroke-width="2.6"><path vector-effect="non-scaling-stroke" transform="translate(0.00,0)" d="M0,-10 L0,0"/></g><g transform="matrix(1.3788,0,-0.0000,1.2400,1188.50,927.50)" stroke-width="2.6"><path vector-effect="non-scaling-stroke" transform="translate(0.00,0)" d="M3.3,-10 C1.3,-10 0,-8 0,-5 C0,-2 1.3,0 3.3,0 C5.3,0 6.6,-2 6.6,-5 C6.6,-8 5.3,-10 3.3,-10 Z"/></g><g transform="matrix(1.5733,0,-0.0000,1.1900,22.65,67.55)" stroke-width="2.5"><path vector-effect="non-scaling-stroke" transform="translate(0.00,0)" d="M0.3,-7.6 C0.4,-9 1.6,-10 3.2,-10 C4.9,-10 6.1,-9 6.1,-7.5 C6.1,-6 5,-5 3.4,-3.8 C1.6,-2.5 0.2,-1.5 0,0 L6.4,0"/><path vector-effect="non-scaling-stroke" transform="translate(8.40,0)" d="M0.3,-8.2 C0.8,-9.3 1.9,-10 3.2,-10 C4.9,-10 6,-9 6,-7.6 C6,-6.2 4.9,-5.3 3,-5.3 C5.2,-5.3 6.4,-4.2 6.4,-2.7 C6.4,-1.1 5.1,0 3.2,0 C1.6,0 0.4,-0.8 0,-2"/><path vector-effect="non-scaling-stroke" transform="translate(16.80,0)" d="M5.8,-10 L1.2,-10 L0.6,-5.6 C1.3,-6.2 2.2,-6.5 3.2,-6.5 C5.1,-6.5 6.4,-5.2 6.4,-3.3 C6.4,-1.3 5.1,0 3.2,0 C1.7,0 0.5,-0.7 0,-1.8"/></g><g transform="matrix(1.7600,0,-0.0000,1.1900,65.85,67.55)" stroke-width="2.5"><path vector-effect="non-scaling-stroke" transform="translate(0.00,0)" d="M0,-4.2 L5,-4.2"/></g><g transform="matrix(2.4403,0,-0.0000,2.2000,87.40,67.50)" stroke-width="3.8"><path vector-effect="non-scaling-stroke" transform="translate(0.00,0)" d="M0.3,-7.6 C0.4,-9 1.6,-10 3.2,-10 C4.9,-10 6.1,-9 6.1,-7.5 C6.1,-6 5,-5 3.4,-3.8 C1.6,-2.5 0.2,-1.5 0,0 L6.4,0"/><path vector-effect="non-scaling-stroke" transform="translate(9.40,0)" d="M0,-10 L6.5,-10 L2,0"/></g><g transform="matrix(1.5043,0,-0.0000,1.1900,1495.25,67.25)" stroke-width="2.5"><path vector-effect="non-scaling-stroke" transform="translate(0.00,0)" d="M0.3,-7.6 C0.4,-9 1.6,-10 3.2,-10 C4.9,-10 6.1,-9 6.1,-7.5 C6.1,-6 5,-5 3.4,-3.8 C1.6,-2.5 0.2,-1.5 0,0 L6.4,0"/><path vector-effect="non-scaling-stroke" transform="translate(8.40,0)" d="M0.3,-8.2 C0.8,-9.3 1.9,-10 3.2,-10 C4.9,-10 6,-9 6,-7.6 C6,-6.2 4.9,-5.3 3,-5.3 C5.2,-5.3 6.4,-4.2 6.4,-2.7 C6.4,-1.1 5.1,0 3.2,0 C1.6,0 0.4,-0.8 0,-2"/><path vector-effect="non-scaling-stroke" transform="translate(16.80,0)" d="M5.8,-10 L1.2,-10 L0.6,-5.6 C1.3,-6.2 2.2,-6.5 3.2,-6.5 C5.1,-6.5 6.4,-5.2 6.4,-3.3 C6.4,-1.3 5.1,0 3.2,0 C1.7,0 0.5,-0.7 0,-1.8"/></g><g transform="matrix(2.1000,0,-0.0000,1.1900,1538.05,67.25)" stroke-width="2.5"><path vector-effect="non-scaling-stroke" transform="translate(0.00,0)" d="M0,-4.2 L5,-4.2"/></g><g transform="matrix(2.4465,0,-0.0000,2.1800,1559.90,67.30)" stroke-width="3.8"><path vector-effect="non-scaling-stroke" transform="translate(0.00,0)" d="M0.3,-7.6 C0.4,-9 1.6,-10 3.2,-10 C4.9,-10 6.1,-9 6.1,-7.5 C6.1,-6 5,-5 3.4,-3.8 C1.6,-2.5 0.2,-1.5 0,0 L6.4,0"/><path vector-effect="non-scaling-stroke" transform="translate(9.40,0)" d="M0,-10 L6.5,-10 L2,0"/></g><g transform="matrix(1.5955,0,-0.0000,1.2700,1162.15,68.65)" stroke-width="2.3"><path vector-effect="non-scaling-stroke" transform="translate(0.00,0)" d="M6,-8 C5.6,-9.2 4.6,-10 3.2,-10 C1.6,-10 0.4,-9 0.4,-7.5 C0.4,-6.2 1.3,-5.6 3.2,-5.1 C5.2,-4.6 6.4,-4 6.4,-2.6 C6.4,-1 5.1,0 3.2,0 C1.6,0 0.4,-0.9 0,-2.2"/><path vector-effect="non-scaling-stroke" transform="translate(8.70,0)" d="M6.8,-7.8 C6.2,-9.1 5,-10 3.7,-10 C1.5,-10 0,-8 0,-5 C0,-2 1.5,0 3.7,0 C5,0 6.2,-0.9 6.8,-2.2"/><path vector-effect="non-scaling-stroke" transform="translate(17.80,0)" d="M0,-10 L0,0 M6.8,-10 L6.8,0 M0,-5.2 L6.8,-5.2"/><path vector-effect="non-scaling-stroke" transform="translate(26.90,0)" d="M4,-10 C1.6,-10 0,-8 0,-5 C0,-2 1.6,0 4,0 C6.4,0 8,-2 8,-5 C8,-8 6.4,-10 4,-10 Z"/><path vector-effect="non-scaling-stroke" transform="translate(37.20,0)" d="M4,-10 C1.6,-10 0,-8 0,-5 C0,-2 1.6,0 4,0 C6.4,0 8,-2 8,-5 C8,-8 6.4,-10 4,-10 Z"/><path vector-effect="non-scaling-stroke" transform="translate(47.50,0)" d="M0,-10 L0,0 L5.4,0"/></g><g transform="matrix(1.6096,0,-0.0000,1.2700,1265.05,68.65)" stroke-width="2.3"><path vector-effect="non-scaling-stroke" transform="translate(0.00,0)" d="M0,0 L0,-10 L2.8,-10 C5.2,-10 6.8,-8 6.8,-5 C6.8,-2 5.2,0 2.8,0 Z"/><path vector-effect="non-scaling-stroke" transform="translate(9.10,0)" d="M0,-10 L0,0"/><path vector-effect="non-scaling-stroke" transform="translate(11.40,0)" d="M6,-8 C5.6,-9.2 4.6,-10 3.2,-10 C1.6,-10 0.4,-9 0.4,-7.5 C0.4,-6.2 1.3,-5.6 3.2,-5.1 C5.2,-4.6 6.4,-4 6.4,-2.6 C6.4,-1 5.1,0 3.2,0 C1.6,0 0.4,-0.9 0,-2.2"/><path vector-effect="non-scaling-stroke" transform="translate(20.10,0)" d="M0,-10 L6.8,-10 M3.4,-10 L3.4,0"/><path vector-effect="non-scaling-stroke" transform="translate(29.20,0)" d="M0,-0.05 L0,0" stroke-width="2.99"/></g><g transform="matrix(2.0193,0,-0.7753,2.1300,1342.75,70.75)" stroke-width="2.1"><path vector-effect="non-scaling-stroke" transform="translate(0.00,0)" d="M0.8,-1 C1.4,-0.3 2.1,0 2.9,0 C4.9,0 6.4,-2 6.4,-6 C6.4,-8.5 5.1,-10 3.2,-10 C1.3,-10 0,-8.7 0,-6.8 C0,-5 1.3,-3.8 3.1,-3.8 C4.8,-3.8 6.1,-5 6.4,-6.5"/></g><g transform="matrix(1.9177,0,-0.7753,2.1300,1356.05,70.75)" stroke-width="2.1"><path vector-effect="non-scaling-stroke" transform="translate(0.00,0)" d="M5.2,0 L5.2,-10 L0,-3 L7,-3"/></g><g transform="matrix(1.3800,0,-0.0000,2.1300,1382.35,68.35)" stroke-width="2.1"><path vector-effect="non-scaling-stroke" transform="translate(0.00,0)" d="M0,-4.2 L5,-4.2"/></g><g transform="matrix(1.7556,0,-0.7753,2.1300,1390.05,70.75)" stroke-width="2.1"><path vector-effect="non-scaling-stroke" transform="translate(0.00,0)" d="M0.3,-8.2 C0.8,-9.3 1.9,-10 3.2,-10 C4.9,-10 6,-9 6,-7.6 C6,-6.2 4.9,-5.3 3,-5.3 C5.2,-5.3 6.4,-4.2 6.4,-2.7 C6.4,-1.1 5.1,0 3.2,0 C1.6,0 0.4,-0.8 0,-2"/></g><g transform="matrix(1.8338,0,-0.7753,2.1300,1404.65,70.75)" stroke-width="2.1"><path vector-effect="non-scaling-stroke" transform="translate(0.00,0)" d="M0.3,-8.2 C0.8,-9.3 1.9,-10 3.2,-10 C4.9,-10 6,-9 6,-7.6 C6,-6.2 4.9,-5.3 3,-5.3 C5.2,-5.3 6.4,-4.2 6.4,-2.7 C6.4,-1.1 5.1,0 3.2,0 C1.6,0 0.4,-0.8 0,-2"/></g><g transform="matrix(2.2188,0,-0.0000,2.0800,446.70,66.80)" stroke-width="3.8"><path vector-effect="non-scaling-stroke" transform="translate(0.00,0)" d="M6,-8 C5.6,-9.2 4.6,-10 3.2,-10 C1.6,-10 0.4,-9 0.4,-7.5 C0.4,-6.2 1.3,-5.6 3.2,-5.1 C5.2,-4.6 6.4,-4 6.4,-2.6 C6.4,-1 5.1,0 3.2,0 C1.6,0 0.4,-0.9 0,-2.2"/></g><g transform="matrix(2.5714,0,-0.0000,2.0800,465.30,66.80)" stroke-width="3.8"><path vector-effect="non-scaling-stroke" transform="translate(0.00,0)" d="M0,-10 L2.6,0 L5.25,-10 L7.9,0 L10.5,-10"/></g><g transform="matrix(2.0800,0,-0.0000,2.0800,496.30,66.80)" stroke-width="3.8"><path vector-effect="non-scaling-stroke" transform="translate(0.00,0)" d="M0,-0.05 L0,0" stroke-width="4.94"/></g><g transform="matrix(2.0800,0,-0.0000,2.0800,509.00,66.80)" stroke-width="3.8"><path vector-effect="non-scaling-stroke" transform="translate(0.00,0)" d="M0,-10 L0,0"/></g><g transform="matrix(1.7391,0,-0.0000,2.0800,512.50,66.80)" stroke-width="3.8"><path vector-effect="non-scaling-stroke" transform="translate(0.00,0)" d="M4.6,-10 L0,0"/></g><g transform="matrix(2.7857,0,-0.0000,2.0800,523.90,66.80)" stroke-width="3.8"><path vector-effect="non-scaling-stroke" transform="translate(0.00,0)" d="M5.2,0 L5.2,-10 L0,-3 L7,-3"/></g><g transform="matrix(2.5000,0,-0.0000,2.0800,564.80,66.80)" stroke-width="3.8"><path vector-effect="non-scaling-stroke" transform="translate(0.00,0)" d="M6,-8 C5.6,-9.2 4.6,-10 3.2,-10 C1.6,-10 0.4,-9 0.4,-7.5 C0.4,-6.2 1.3,-5.6 3.2,-5.1 C5.2,-4.6 6.4,-4 6.4,-2.6 C6.4,-1 5.1,0 3.2,0 C1.6,0 0.4,-0.9 0,-2.2"/></g><g transform="matrix(2.2143,0,-0.0000,2.0800,587.60,66.80)" stroke-width="3.8"><path vector-effect="non-scaling-stroke" transform="translate(0.00,0)" d="M5.6,-10 L0,-10 L0,0 L5.6,0 M0,-5.2 L4.2,-5.2"/></g><g transform="matrix(2.4265,0,-0.0000,2.0800,606.20,66.80)" stroke-width="3.8"><path vector-effect="non-scaling-stroke" transform="translate(0.00,0)" d="M6.8,-7.8 C6.2,-9.1 5,-10 3.7,-10 C1.5,-10 0,-8 0,-5 C0,-2 1.5,0 3.7,0 C5,0 6.2,-0.9 6.8,-2.2"/></g><g transform="matrix(2.0800,0,-0.0000,2.0800,629.70,66.80)" stroke-width="3.8"><path vector-effect="non-scaling-stroke" transform="translate(0.00,0)" d="M0,-0.05 L0,0" stroke-width="4.94"/></g><g transform="matrix(2.6875,0,-0.0000,2.0800,645.10,66.80)" stroke-width="3.8"><path vector-effect="non-scaling-stroke" transform="translate(0.00,0)" d="M0.3,-7.6 C0.4,-9 1.6,-10 3.2,-10 C4.9,-10 6.1,-9 6.1,-7.5 C6.1,-6 5,-5 3.4,-3.8 C1.6,-2.5 0.2,-1.5 0,0 L6.4,0"/></g><g transform="matrix(2.6875,0,-0.0000,2.0800,669.70,66.80)" stroke-width="3.8"><path vector-effect="non-scaling-stroke" transform="translate(0.00,0)" d="M0.3,-8.2 C0.8,-9.3 1.9,-10 3.2,-10 C4.9,-10 6,-9 6,-7.6 C6,-6.2 4.9,-5.3 3,-5.3 C5.2,-5.3 6.4,-4.2 6.4,-2.7 C6.4,-1.1 5.1,0 3.2,0 C1.6,0 0.4,-0.8 0,-2"/></g><g transform="matrix(2.4412,0,-0.0000,2.0800,705.60,66.50)" stroke-width="3.8"><path vector-effect="non-scaling-stroke" transform="translate(0.00,0)" d="M0,-10 L6.8,-10 M3.4,-10 L3.4,0"/></g><g transform="matrix(2.0800,0,-0.0000,2.0800,724.70,66.50)" stroke-width="3.8"><path vector-effect="non-scaling-stroke" transform="translate(0.00,0)" d="M0,-0.05 L0,0" stroke-width="4.94"/></g><g transform="matrix(2.0800,0,-0.0000,2.0800,739.40,66.50)" stroke-width="3.8"><path vector-effect="non-scaling-stroke" transform="translate(0.00,0)" d="M0,-10 L0,0"/></g><g transform="matrix(2.0800,0,-0.0000,2.0800,754.40,66.50)" stroke-width="3.8"><path vector-effect="non-scaling-stroke" transform="translate(0.00,0)" d="M0,-10 L0,0"/></g><g transform="matrix(3.1029,0,-0.0000,2.0800,769.80,66.50)" stroke-width="3.8"><path vector-effect="non-scaling-stroke" transform="translate(0.00,0)" d="M0,0 L0,-10 L6.8,0 L6.8,-10"/></g><g transform="matrix(2.0800,0,-0.0000,2.0800,798.20,66.50)" stroke-width="3.8"><path vector-effect="non-scaling-stroke" transform="translate(0.00,0)" d="M0,-0.05 L0,0" stroke-width="4.94"/></g><g transform="matrix(2.8281,0,-0.0000,2.0800,814.80,66.20)" stroke-width="3.8"><path vector-effect="non-scaling-stroke" transform="translate(0.00,0)" d="M0,0 L0,-10 L3.4,-10 C5.2,-10 6.2,-9 6.2,-7.4 C6.2,-5.8 5.2,-4.8 3.4,-4.8 L0,-4.8 M3.4,-4.8 L6.4,0"/></g><g transform="matrix(2.0800,0,-0.0000,2.0800,840.80,66.20)" stroke-width="3.8"><path vector-effect="non-scaling-stroke" transform="translate(0.00,0)" d="M0,-0.05 L0,0" stroke-width="4.94"/></g><g transform="matrix(2.0800,0,-0.0000,2.0800,850.40,66.20)" stroke-width="3.8"><path vector-effect="non-scaling-stroke" transform="translate(0.00,0)" d="M0,-10 L0,0"/></g><g transform="matrix(2.0800,0,-0.0000,2.0800,866.30,66.20)" stroke-width="3.8"><path vector-effect="non-scaling-stroke" transform="translate(0.00,0)" d="M0,-10 L0,0"/></g><g transform="matrix(2.6667,0,-0.0000,2.0800,883.40,66.20)" stroke-width="3.8"><path vector-effect="non-scaling-stroke" transform="translate(0.00,0)" d="M0,-10 L2.6,0 L5.25,-10 L7.9,0 L10.5,-10"/></g><g transform="matrix(2.0800,0,-0.0000,2.0800,918.70,66.20)" stroke-width="3.8"><path vector-effect="non-scaling-stroke" transform="translate(0.00,0)" d="M0,-0.05 L0,0" stroke-width="4.94"/></g><path d="M1623.9,167.6 L1610.6,335 L1624.4,327.6 L1638.7,335 Z" stroke-width="1.3" stroke-linejoin="miter"/><circle cx="1624.4" cy="278.8" r="13.6" stroke-width="1.5"/><path d="M1617.6,269.8 L1633.2,278.2 M1615.9,277.4 L1632.6,286.6" stroke-width="1.6"/><g transform="matrix(0.8700,0,-0.3693,0.8700,1604.15,364.55)" stroke-width="1.5"><path vector-effect="non-scaling-stroke" transform="translate(0.00,0)" d="M0,-10 L0,0"/></g><path d="M1611.2,358.8 L1613.3,353.9 M1614.0,358.6 L1616.3,353.7" stroke-width="1.3"/><path d="M1619.4,360.5 L1623.9,360.5" stroke-width="2.0" stroke-linecap="butt"/><g transform="matrix(0.8365,0,-0.3268,0.7700,1629.05,364.55)" stroke-width="1.5"><path vector-effect="non-scaling-stroke" transform="translate(0.00,0)" d="M5.2,0 L5.2,-10 L0,-3 L7,-3"/><path vector-effect="non-scaling-stroke" transform="translate(8.40,0)" d="M3.3,-10 C1.3,-10 0,-8 0,-5 C0,-2 1.3,0 3.3,0 C5.3,0 6.6,-2 6.6,-5 C6.6,-8 5.3,-10 3.3,-10 Z"/><path vector-effect="non-scaling-stroke" transform="translate(16.40,0)" d="M3.3,-10 C1.3,-10 0,-8 0,-5 C0,-2 1.3,0 3.3,0 C5.3,0 6.6,-2 6.6,-5 C6.6,-8 5.3,-10 3.3,-10 Z"/></g><path d="M1653.7,358.1 L1656.0,353.2" stroke-width="1.3"/></g>
<g stroke="#181818" fill="none" stroke-linecap="round" stroke-linejoin="round">
<g transform="matrix(2.3125,0,-0.0000,1.7600,1514.45,1135.25)" stroke-width="1.9"><path vector-effect="non-scaling-stroke" transform="translate(0.00,0)" d="M0.3,-7.6 C0.4,-9 1.6,-10 3.2,-10 C4.9,-10 6.1,-9 6.1,-7.5 C6.1,-6 5,-5 3.4,-3.8 C1.6,-2.5 0.2,-1.5 0,0 L6.4,0"/></g><g transform="matrix(2.1875,0,-0.0000,1.7600,1534.55,1135.25)" stroke-width="1.9"><path vector-effect="non-scaling-stroke" transform="translate(0.00,0)" d="M0.3,-8.2 C0.8,-9.3 1.9,-10 3.2,-10 C4.9,-10 6,-9 6,-7.6 C6,-6.2 4.9,-5.3 3,-5.3 C5.2,-5.3 6.4,-4.2 6.4,-2.7 C6.4,-1.1 5.1,0 3.2,0 C1.6,0 0.4,-0.8 0,-2"/></g><g transform="matrix(2.2031,0,-0.0000,1.7600,1553.85,1135.25)" stroke-width="1.9"><path vector-effect="non-scaling-stroke" transform="translate(0.00,0)" d="M5.8,-10 L1.2,-10 L0.6,-5.6 C1.3,-6.2 2.2,-6.5 3.2,-6.5 C5.1,-6.5 6.4,-5.2 6.4,-3.3 C6.4,-1.3 5.1,0 3.2,0 C1.7,0 0.5,-0.7 0,-1.8"/></g><g transform="matrix(1.9800,0,-0.0000,1.7600,1573.15,1136.05)" stroke-width="1.9"><path vector-effect="non-scaling-stroke" transform="translate(0.00,0)" d="M0,-4.2 L5,-4.2"/></g><g transform="matrix(2.3281,0,-0.0000,1.7600,1588.25,1135.25)" stroke-width="1.9"><path vector-effect="non-scaling-stroke" transform="translate(0.00,0)" d="M0.3,-7.6 C0.4,-9 1.6,-10 3.2,-10 C4.9,-10 6.1,-9 6.1,-7.5 C6.1,-6 5,-5 3.4,-3.8 C1.6,-2.5 0.2,-1.5 0,0 L6.4,0"/></g><g transform="matrix(2.0308,0,-0.0000,1.7600,1608.45,1135.25)" stroke-width="1.9"><path vector-effect="non-scaling-stroke" transform="translate(0.00,0)" d="M0,-10 L6.5,-10 L2,0"/></g>
<line x1="1510.2" y1="1138.7" x2="1638" y2="1138.7" stroke-width="2.3" stroke-dasharray="0.1 4.98" stroke="#111"/>
</g>
<g fill="#050505" stroke="#050505" stroke-width="2.5" stroke-linejoin="miter" stroke-miterlimit="3"><text id="b0" x="1214.60" y="1138.75" font-size="27.4" textLength="162.60" lengthAdjust="spacingAndGlyphs" letter-spacing="3.4">ASSESSORS</text><text id="b1" x="1391.60" y="1138.75" font-size="27.4" textLength="61.20" lengthAdjust="spacingAndGlyphs" letter-spacing="3.4">MAP</text><text id="b2" x="1463.60" y="1138.75" font-size="27.4" textLength="46.20" lengthAdjust="spacingAndGlyphs" letter-spacing="3.4">NO.</text><text id="b3" x="1301.60" y="1175.45" font-size="27.4" textLength="108.40" lengthAdjust="spacingAndGlyphs" letter-spacing="3.4">COUNTY</text><text id="b4" x="1428.80" y="1175.45" font-size="27.4" textLength="35.40" lengthAdjust="spacingAndGlyphs" letter-spacing="3.4">OF</text><text id="b5" x="1481.40" y="1175.45" font-size="27.4" textLength="75.40" lengthAdjust="spacingAndGlyphs" letter-spacing="3.4">KERN</text></g>
<g transform="rotate(-0.42 1228 1050)">
<rect x="1217.5" y="1013.6" width="312.6" height="64.8" fill="none" stroke="#111" stroke-width="2.2"/>
<g fill="#111" stroke="#111" stroke-width="0.5"><text id="n0" x="1228.40" y="1030.60" font-size="11.9" textLength="284.20" lengthAdjust="spacing" word-spacing="2.2">Note: This map is for assessment purposes</text><text id="n1" x="1228.40" y="1043.70" font-size="11.9" textLength="291.80" lengthAdjust="spacing" word-spacing="2.2">only. It is not to be construed as portraying</text><text id="n2" x="1228.80" y="1056.70" font-size="11.9" textLength="263.20" lengthAdjust="spacing" word-spacing="2.2">legal ownership or divisions of land for</text><text id="n3" x="1227.40" y="1069.20" font-size="11.9" textLength="253.00" lengthAdjust="spacing" word-spacing="2.2">purposes of zoning or subdivision law.</text></g>
</g>
</g>
<g class="wmk"><g font-size="34.9" style="font-weight:normal" fill="#000"><text transform="translate(3.74,1138.9) scale(0.9437,1)">G</text><text transform="translate(30.24,1138.9) scale(0.8514,1)">A</text><text transform="translate(50.27,1138.9) scale(0.8358,1)">V</text><text transform="translate(69.84,1138.9) scale(0.8514,1)">A</text><text transform="translate(91.51,1138.9) scale(0.8686,1)">R</text><text transform="translate(122.90,1138.9) scale(1.0151,1)">M</text><text transform="translate(151.45,1138.9) scale(0.9943,1)">L</text><text transform="translate(169.26,1138.9) scale(0.9108,1)">S</text></g><g font-size="34.9" style="font-weight:normal" fill="#fff"><text transform="translate(5.84,1139.3500000000001) scale(0.9437,1)">G</text><text transform="translate(32.34,1139.3500000000001) scale(0.8514,1)">A</text><text transform="translate(52.37,1139.3500000000001) scale(0.8358,1)">V</text><text transform="translate(71.94,1139.3500000000001) scale(0.8514,1)">A</text><text transform="translate(93.61,1139.3500000000001) scale(0.8686,1)">R</text><text transform="translate(125.00,1139.3500000000001) scale(1.0151,1)">M</text><text transform="translate(153.55,1139.3500000000001) scale(0.9943,1)">L</text><text transform="translate(171.36,1139.3500000000001) scale(0.9108,1)">S</text></g></g>
</svg>
</body></html>
